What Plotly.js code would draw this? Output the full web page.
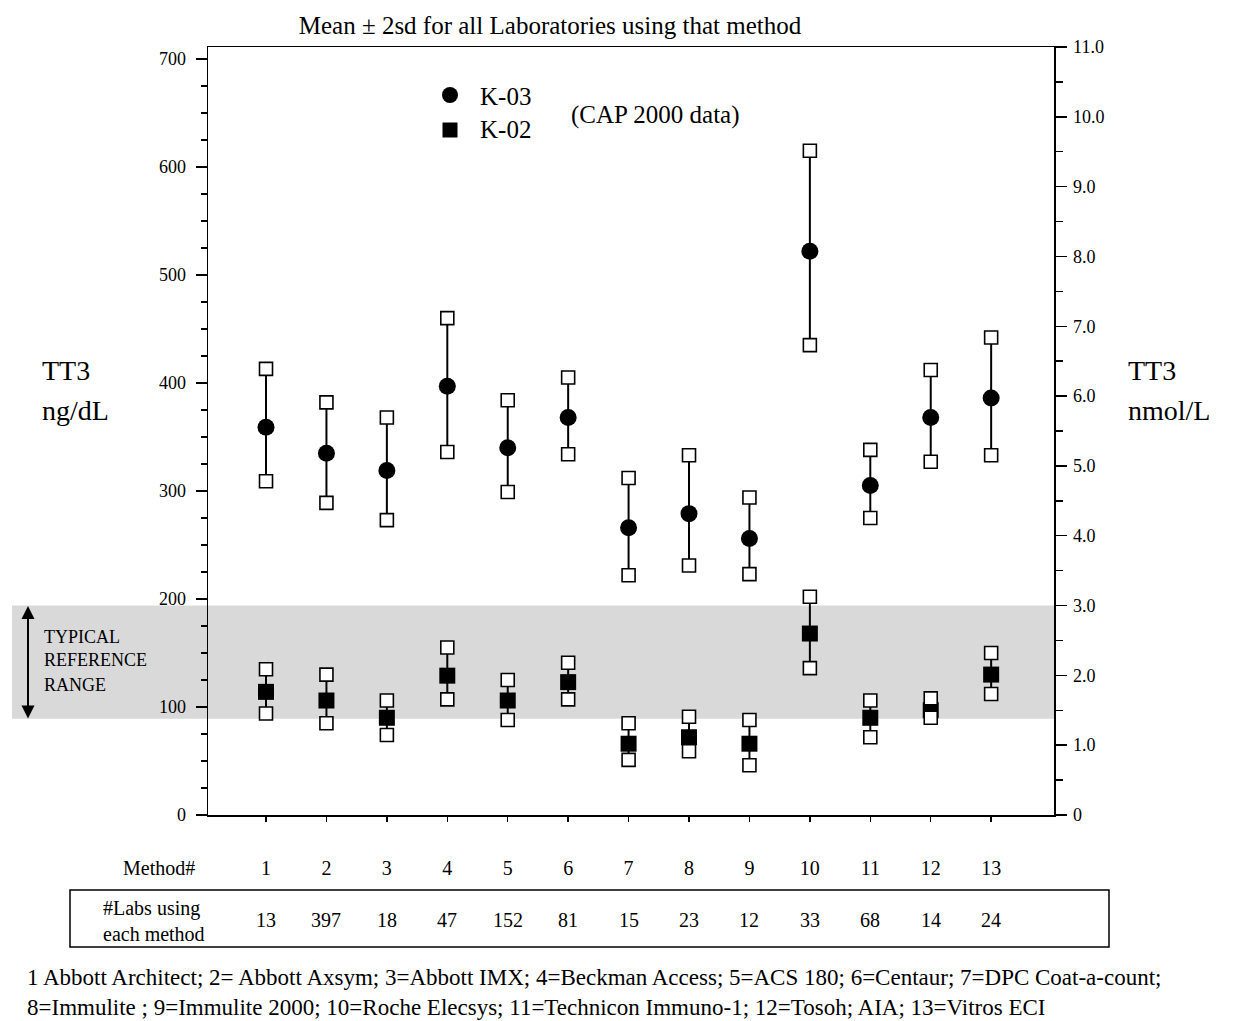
<!DOCTYPE html>
<html>
<head>
<meta charset="utf-8">
<script src="https://cdn.plot.ly/plotly-3.0.1.min.js"></script>
<style>html,body{margin:0;padding:0;background:#fff;}#chart{width:1243px;height:1021px;}</style>
</head>
<body>
<div id="chart"></div>
<script>
// ---- data ----
const methods = [1,2,3,4,5,6,7,8,9,10,11,12,13];
const methodLabels = ['1','2','3','4','5','6','7','8','9','10','11','12','13'];
const labCounts = [13,397,18,47,152,81,15,23,12,33,68,14,24];
const seriesNames = ['K-03', 'K-02'];
// K-03 (ng/dL): mean, mean+2sd, mean-2sd
const k03Mean  = [359,335,319,397,340,368,266,279,256,522,305,368,386];
const k03Upper = [413,382,368,460,384,405,312,333,294,615,338,412,442];
const k03Lower = [309,289,273,336,299,334,222,231,223,435,275,327,333];
// K-02 (ng/dL)
const k02Mean  = [114,106, 90,129,106,123, 66, 72, 66,168, 90, 97,130];
const k02Upper = [135,130,106,155,125,141, 85, 91, 88,202,106,108,150];
const k02Lower = [ 94, 85, 74,107, 88,107, 51, 59, 46,136, 72, 90,112];
// reference range (ng/dL)
const refRange = [89, 194];
// axis ticks
const leftTicks = [0,100,200,300,400,500,600,700];
const rightTicks = [0,1,2,3,4,5,6,7,8,9,10,11];
const rightTickText = ['0','1.0','2.0','3.0','4.0','5.0','6.0','7.0','8.0','9.0','10.0','11.0'];
const footnote1 = '1 Abbott Architect; 2= Abbott Axsym; 3=Abbott IMX; 4=Beckman Access; 5=ACS 180; 6=Centaur; 7=DPC Coat-a-count;';
const footnote2 = '8=Immulite ; 9=Immulite 2000; 10=Roche Elecsys; 11=Technicon Immuno-1; 12=Tosoh; AIA; 13=Vitros ECI';

// ---- geometry ----
const W = 1243, H = 1021;
const L = 208, R = 1054, T = 47, B = 815;
const pw = R - L, ph = B - T;
const yLeftMax = 711, yRightMax = 11;
const px = v => (v - L) / pw;      // page x -> paper
const py = v => (B - v) / ph;      // page y -> paper

const serif = 'Liberation Serif, Times New Roman, serif';

function errTrace(mean, up, lo, sym, size, name) {
  return {
    type: 'scatter', mode: 'markers', name: name, x: methods, y: mean,
    showlegend: false,
    marker: {symbol: sym, size: size, color: '#000', line: {width: 0}},
    error_y: {type: 'data', symmetric: false,
      array: up.map((u, i) => u - mean[i]),
      arrayminus: lo.map((l, i) => mean[i] - l),
      color: '#000', thickness: 2, width: 0},
    hoverinfo: 'skip'
  };
}
function openSquares(up, lo) {
  return {
    type: 'scatter', mode: 'markers', showlegend: false,
    x: methods.concat(methods), y: up.concat(lo),
    marker: {symbol: 'square', size: 13, color: '#fff', line: {width: 1.6, color: '#000'}},
    hoverinfo: 'skip'
  };
}

const traces = [
  errTrace(k03Mean, k03Upper, k03Lower, 'circle', 17, seriesNames[0]),
  errTrace(k02Mean, k02Upper, k02Lower, 'square', 16, seriesNames[1]),
  openSquares(k03Upper, k03Lower),
  openSquares(k02Upper, k02Lower),
  {type: 'scatter', x: [null], y: [null], yaxis: 'y2', showlegend: false, hoverinfo: 'skip'}
];

const annotations = [];
function txt(text, x, y, size, opts) {
  annotations.push(Object.assign({text: text, x: x, y: y, xref: 'paper', yref: 'paper',
    showarrow: false, font: {family: serif, size: size, color: '#000'},
    xanchor: 'left', yanchor: 'middle'}, opts || {}));
}
// axis titles
txt('TT3', px(40), py(370), 28);
txt('ng/dL', px(40), py(410), 28);
txt('TT3', px(1126), py(370), 28);
txt('nmol/L', px(1126), py(410), 28);
// legend
txt(seriesNames[0], px(478), py(97), 25);
txt(seriesNames[1], px(478), py(130), 25);
txt('(CAP 2000 data)', px(569), py(115), 25);
// reference range
txt('TYPICAL', px(42), py(637), 18);
txt('REFERENCE', px(42), py(660), 18);
txt('RANGE', px(42), py(685), 18);
annotations.push({x: px(28), y: py(606), xref: 'paper', yref: 'paper', ax: 0, ay: 114,
  axref: 'pixel', ayref: 'pixel', text: '', showarrow: true, arrowhead: 2, startarrowhead: 2,
  arrowside: 'end+start', arrowsize: 1.3, arrowwidth: 2, arrowcolor: '#000'});
// method row
txt('Method#', px(197), py(868), 20, {xanchor: 'right'});
// labs row
txt('#Labs using', px(101), py(908), 20);
txt('each method', px(101), py(934), 20);
methods.forEach((m, i) => {
  annotations.push({text: String(labCounts[i]), x: m, y: py(920), xref: 'x', yref: 'paper',
    showarrow: false, font: {family: serif, size: 20, color: '#000'}, xanchor: 'center', yanchor: 'middle'});
});
// footnotes
txt(footnote1, px(25), py(977), 23);
txt(footnote2, px(25), py(1007), 23);

const shapes = [
  {type: 'rect', xref: 'paper', yref: 'paper', x0: px(12), x1: 1,
   y0: refRange[0] / yLeftMax, y1: refRange[1] / yLeftMax,
   fillcolor: '#d9d9d9', line: {width: 0}, layer: 'below'},
  {type: 'rect', xref: 'paper', yref: 'paper', x0: px(70), x1: px(1109), y0: py(890), y1: py(947),
   fillcolor: 'rgba(0,0,0,0)', line: {width: 1.5, color: '#000'}},
  // legend symbols
  {type: 'circle', xref: 'paper', yref: 'paper', x0: px(442), x1: px(458), y0: py(87), y1: py(103),
   fillcolor: '#000', line: {width: 0}},
  {type: 'rect', xref: 'paper', yref: 'paper', x0: px(442.5), x1: px(457.5), y0: py(122.5), y1: py(137.5),
   fillcolor: '#000', line: {width: 0}}
];

const layout = {
  width: W, height: H,
  margin: {l: L, r: W - R, t: T, b: H - B, pad: 0},
  paper_bgcolor: '#fff', plot_bgcolor: 'rgba(0,0,0,0)',
  title: {text: 'Mean ± 2sd for all Laboratories using that method', x: 550 / W, xanchor: 'center',
    y: 1 - 25 / H, yanchor: 'middle', font: {family: serif, size: 25, color: '#000'}},
  showlegend: false,
  xaxis: {range: [0.04, 14.04], showgrid: false, zeroline: false, showline: true, linecolor: '#000',
    linewidth: 1.5, mirror: true, ticks: 'outside', ticklen: 5, tickcolor: '#000', tickwidth: 1.5,
    tickvals: methods, ticktext: methodLabels, ticklabelstandoff: 29,
    tickfont: {family: serif, size: 20, color: '#000'}, fixedrange: true},
  yaxis: {range: [0, yLeftMax], showgrid: false, zeroline: false, showline: true, linecolor: '#000',
    linewidth: 1.5, ticks: 'outside', ticklen: 11, tickwidth: 1.5, tickcolor: '#000',
    tickvals: leftTicks, ticktext: leftTicks.map(String), ticklabelstandoff: 6,
    minor: {dtick: 25, tick0: 0, ticks: 'outside', ticklen: 6, tickwidth: 1.5, tickcolor: '#000', showgrid: false},
    tickfont: {family: serif, size: 18, color: '#000'}, fixedrange: true},
  yaxis2: {range: [0, yRightMax], overlaying: 'y', side: 'right', showgrid: false, zeroline: false,
    showline: true, linecolor: '#000', linewidth: 1.5, ticks: 'outside', ticklen: 11, tickwidth: 1.5,
    tickcolor: '#000', tickvals: rightTicks, ticktext: rightTickText, ticklabelstandoff: 3,
    minor: {dtick: 0.5, tick0: 0, ticks: 'outside', ticklen: 7, tickwidth: 1.5, tickcolor: '#000', showgrid: false},
    tickfont: {family: serif, size: 18, color: '#000'}, fixedrange: true},
  shapes: shapes,
  annotations: annotations
};

Plotly.newPlot('chart', traces, layout, {displayModeBar: false, staticPlot: true});
</script>
</body>
</html>
